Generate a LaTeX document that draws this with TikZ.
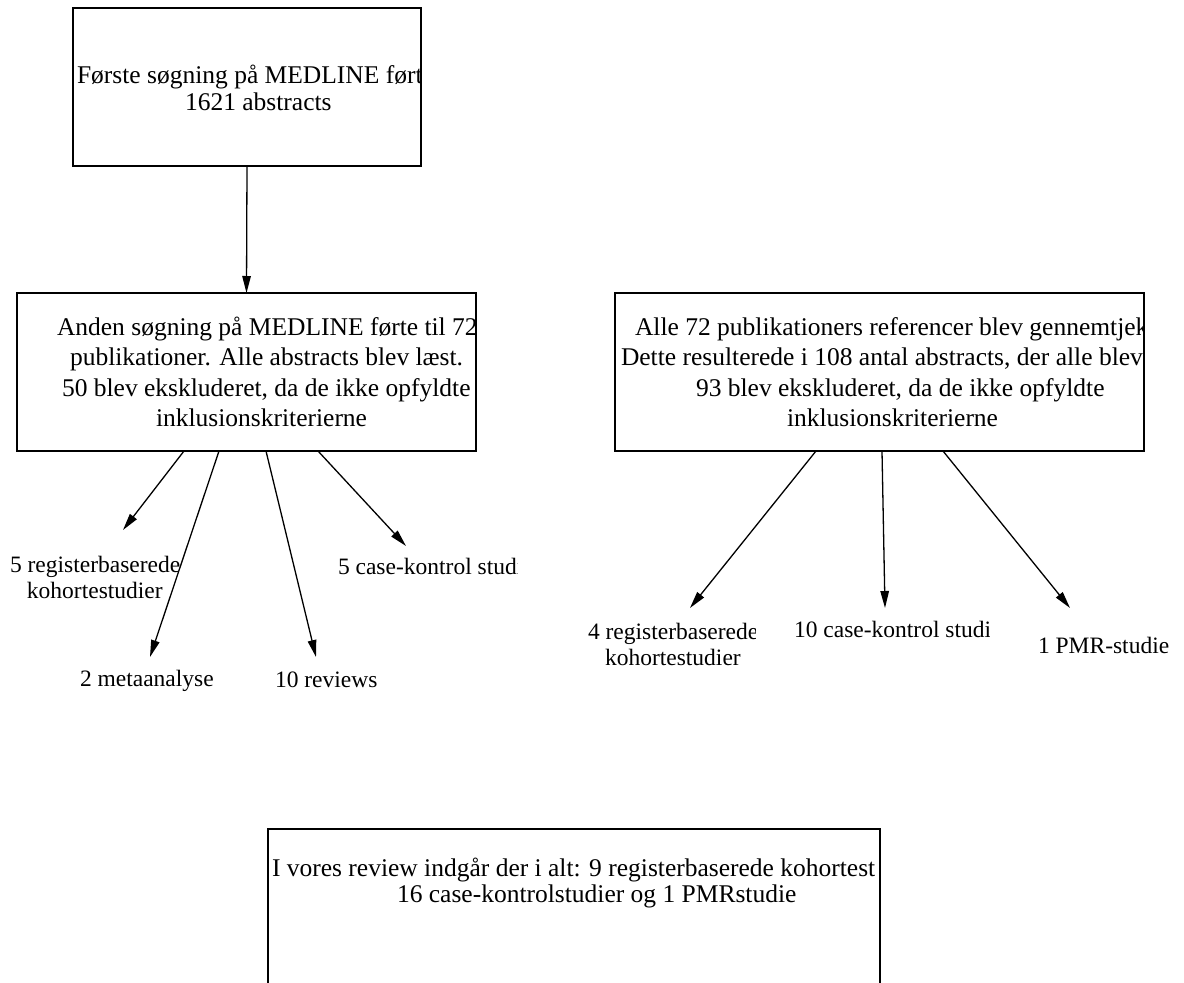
\documentclass[tikz,border=0pt]{standalone}
\usepackage{fontspec}
\setmainfont{Liberation Serif}
\usetikzlibrary{arrows.meta,calc}
\begin{document}
\begin{tikzpicture}[x=1pt,y=-1pt,
  box/.style={draw, line width=1.8pt, inner sep=0pt, outer sep=0pt, rectangle},
  btxt/.style={anchor=base west, inner sep=0pt, outer sep=0pt, font=\fontsize{25.5}{30}\selectfont},
  ltxt/.style={anchor=base west, inner sep=0pt, outer sep=0pt, font=\fontsize{23.5}{28}\selectfont},
  arr/.style={line width=1.3pt, -{Triangle[length=17pt,width=8.5pt]}}]
\clip (0,0) rectangle (1184,983);
\fill[white] (0,0) rectangle (1184,983);

% boxes
\node[box, minimum width=348pt, minimum height=158pt] (b1) at (247,87) {};
\node[box, minimum width=459pt, minimum height=158pt] (b2) at (246.5,372) {};
\node[box, minimum width=529pt, minimum height=158pt] (b3) at (879.5,372) {};
\node[box, minimum width=612pt, minimum height=190pt] (b4) at (574,924) {};

% box texts
\begin{scope}
\clip (b1.north west) rectangle (b1.south east);
\node[btxt] (t1a) at (77,83) {Første søgning på MEDLINE ført};
\node[btxt] (t1b) at (185,110) {1621 abstracts};
\end{scope}
\begin{scope}
\clip (b2.north west) rectangle (b2.south east);
\node[btxt] (t2a) at (57,335) {Anden søgning på MEDLINE førte til 72};
\node[btxt] (t2b) at (70,365.5) {publikationer. Alle abstracts blev læst.};
\node[btxt] (t2c) at (62,396) {50 blev ekskluderet, da de ikke opfyldte};
\node[btxt] (t2d) at (156,426.5) {inklusionskriterierne};
\end{scope}
\begin{scope}
\clip (b3.north west) rectangle (b3.south east);
\node[btxt] (t3a) at (635,335) {Alle 72 publikationers referencer blev gennemtjek};
\node[btxt] (t3b) at (621,365.5) {Dette resulterede i 108 antal abstracts, der alle blev};
\node[btxt] (t3c) at (696,396) {93 blev ekskluderet, da de ikke opfyldte};
\node[btxt] (t3d) at (787,426.5) {inklusionskriterierne};
\end{scope}
\begin{scope}
\clip (b4.north west) rectangle (b4.south east);
\node[btxt] (t4a) at (272,876) {I vores review indgår der i alt: 9 registerbaserede kohortest};
\node[btxt] (t4b) at (397,902) {16 case-kontrolstudier og 1 PMRstudie};
\end{scope}

% labels
\node[ltxt] (l1a) at (10,572) {5 registerbaserede};
\node[ltxt] (l1b) at (27,598) {kohortestudier};
\begin{scope}
\clip (300,540) rectangle (517,600);
\node[ltxt] (l4) at (338,574) {5 case-kontrol studi};
\end{scope}
\begin{scope}
\clip (60,650) rectangle (213,700);
\node[ltxt] (l2) at (80,686) {2 metaanalyse};
\end{scope}
\node[ltxt] (l3) at (275,687) {10 reviews};
\begin{scope}
\clip (570,600) rectangle (755,680);
\node[ltxt] (m1a) at (588,639) {4 registerbaserede};
\end{scope}
\node[ltxt] (m1b) at (605,665) {kohortestudier};
\begin{scope}
\clip (780,600) rectangle (989,660);
\node[ltxt] (m2) at (794,637) {10 case-kontrol studi};
\end{scope}
\node[ltxt] (m3) at (1038,653) {1 PMR-studie};

% arrow tips
\coordinate (e1) at (123,530);
\coordinate (e2) at (150,657);
\coordinate (e3) at (316,657);
\coordinate (e4) at (406,546);
\coordinate (f1) at (690,608);
\coordinate (f2) at (885,608);
\coordinate (f3) at (1070,608);

% connectors
\draw[arr] (b1.south) -- (b2.north);
\draw[arr] ($(b2.south west)+(167,0)$) -- (e1);
\draw[arr] ($(b2.south west)+(202,0)$) -- (e2);
\draw[arr] ($(b2.south west)+(249,0)$) -- (e3);
\draw[arr] ($(b2.south west)+(301,0)$) -- (e4);
\draw[arr] ($(b3.south west)+(201,0)$) -- (f1);
\draw[arr] ($(b3.south west)+(267,0)$) -- (f2);
\draw[arr] ($(b3.south west)+(328,0)$) -- (f3);
\end{tikzpicture}
\end{document}
